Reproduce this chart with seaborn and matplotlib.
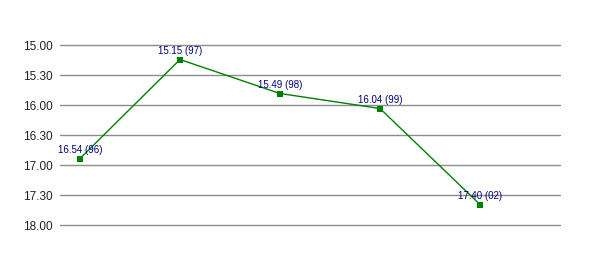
import matplotlib
matplotlib.use("Agg")
import matplotlib.pyplot as plt
import seaborn as sns
import pandas as pd

# Data (times as min.sec)
years = ["96", "97", "98", "99", "02"]
times = ["16.54", "15.15", "15.49", "16.04", "17.40"]
tick_labels = ["15.00", "15.30", "16.00", "16.30", "17.00", "17.30", "18.00"]


def to_sec(s):
    m, sec = s.split(".")
    return int(m) * 60 + int(sec)


df = pd.DataFrame({
    "x": range(len(years)),
    "sec": [to_sec(t) for t in times],
    "label": [f"{t} ({y})" for t, y in zip(times, years)],
})

sns.set_style("white")
plt.rcParams["font.family"] = ["Liberation Sans Narrow", "Liberation Sans", "DejaVu Sans"]

fig = plt.figure(figsize=(6, 2.55), dpi=100)
ax = fig.add_axes([60 / 600, 29.5 / 255, 500 / 600, 180 / 255])

tick_secs = [to_sec(t) for t in tick_labels]
for s in tick_secs:
    ax.axhline(s, color="#8c8c8c", lw=1, zorder=0, clip_on=False)

sns.lineplot(data=df, x="x", y="sec", ax=ax, color="#008000", lw=1,
             marker="s", markersize=4.5, markeredgewidth=0, zorder=3)

for _, r in df.iterrows():
    ax.annotate(r["label"], (r["x"], r["sec"]), xytext=(0, 3.5),
                textcoords="offset points", ha="center", va="bottom",
                fontsize=7, color="#000080", zorder=4)

ax.set_xlim(-0.2, 4.8)
ax.set_ylim(tick_secs[-1], tick_secs[0])
ax.set_yticks(tick_secs)
ax.set_yticklabels(tick_labels)
ax.set_xticks([])
ax.set_xlabel("")
ax.set_ylabel("")
ax.tick_params(axis="y", length=0, pad=5, labelsize=8.5, labelcolor="#222222")
for sp in ax.spines.values():
    sp.set_visible(False)

fig.savefig("out.png", dpi=100)
